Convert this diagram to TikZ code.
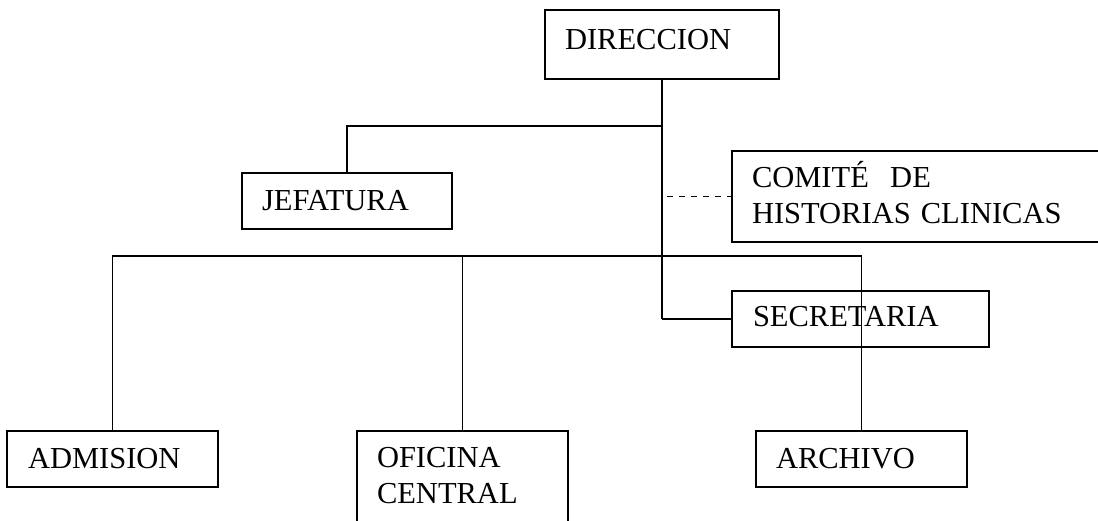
\documentclass[tikz,border=0pt]{standalone}
\usepackage{fontspec}
\setmainfont{Liberation Serif}
\begin{document}
\begin{tikzpicture}[x=1pt,y=-1pt,line width=1.5pt]
  \tikzstyle{every node}=[draw,anchor=north west,align=left,outer sep=0pt,
    inner ysep=0pt,inner xsep=20pt,text height=37pt,text depth=19pt,
    font=\fontsize{30.5}{36}\selectfont]
  \tikzstyle{trunk}=[line width=2.6pt]
  \tikzstyle{staff}=[line width=1.3pt,dash pattern=on 6pt off 6pt]
  \useasboundingbox (0,0) rectangle (1098,520);
  \node[text width=194pt,text height=39pt,text depth=30pt] (dir) at (545,10) {DIRECCION};
  \node[text width=170pt] (jef) at (242,173) {JEFATURA};
  \node[text width=340pt,text height=36pt,text depth=55pt] (com) at (732,151) {COMITÉ\hspace{0.7em}DE\\HISTORIAS CLINICAS};
  \node[text width=215pt,inner xsep=21pt,text height=35pt,text depth=21pt] (sec) at (732,291) {SECRETARIA};
  \node[text width=169pt,inner xsep=21pt] (adm) at (7,431) {ADMISION};
  \node[text width=171pt,text height=36pt,text depth=80pt] (ofi) at (357,431) {OFICINA\\CENTRAL};
  \node[text width=171pt] (arc) at (756,431) {ARCHIVO};
  \path (dir.south) ++(0,47) coordinate (jbend);
  \path (dir.south) ++(0,177) coordinate (bus);
  \path (dir.south |- com.west) ++(5,0) coordinate (cdash);
  \draw[trunk] (dir.south) -- (dir.south |- sec.west);
  \draw (jbend) -| (jef.north);
  \draw (adm.north) |- (bus) -| (arc.north);
  \draw (bus -| ofi.north) -- (ofi.north);
  \draw (dir.south |- sec.west) -- (sec.west);
  \draw[staff] (cdash) -- (com.west);
\end{tikzpicture}
\end{document}
